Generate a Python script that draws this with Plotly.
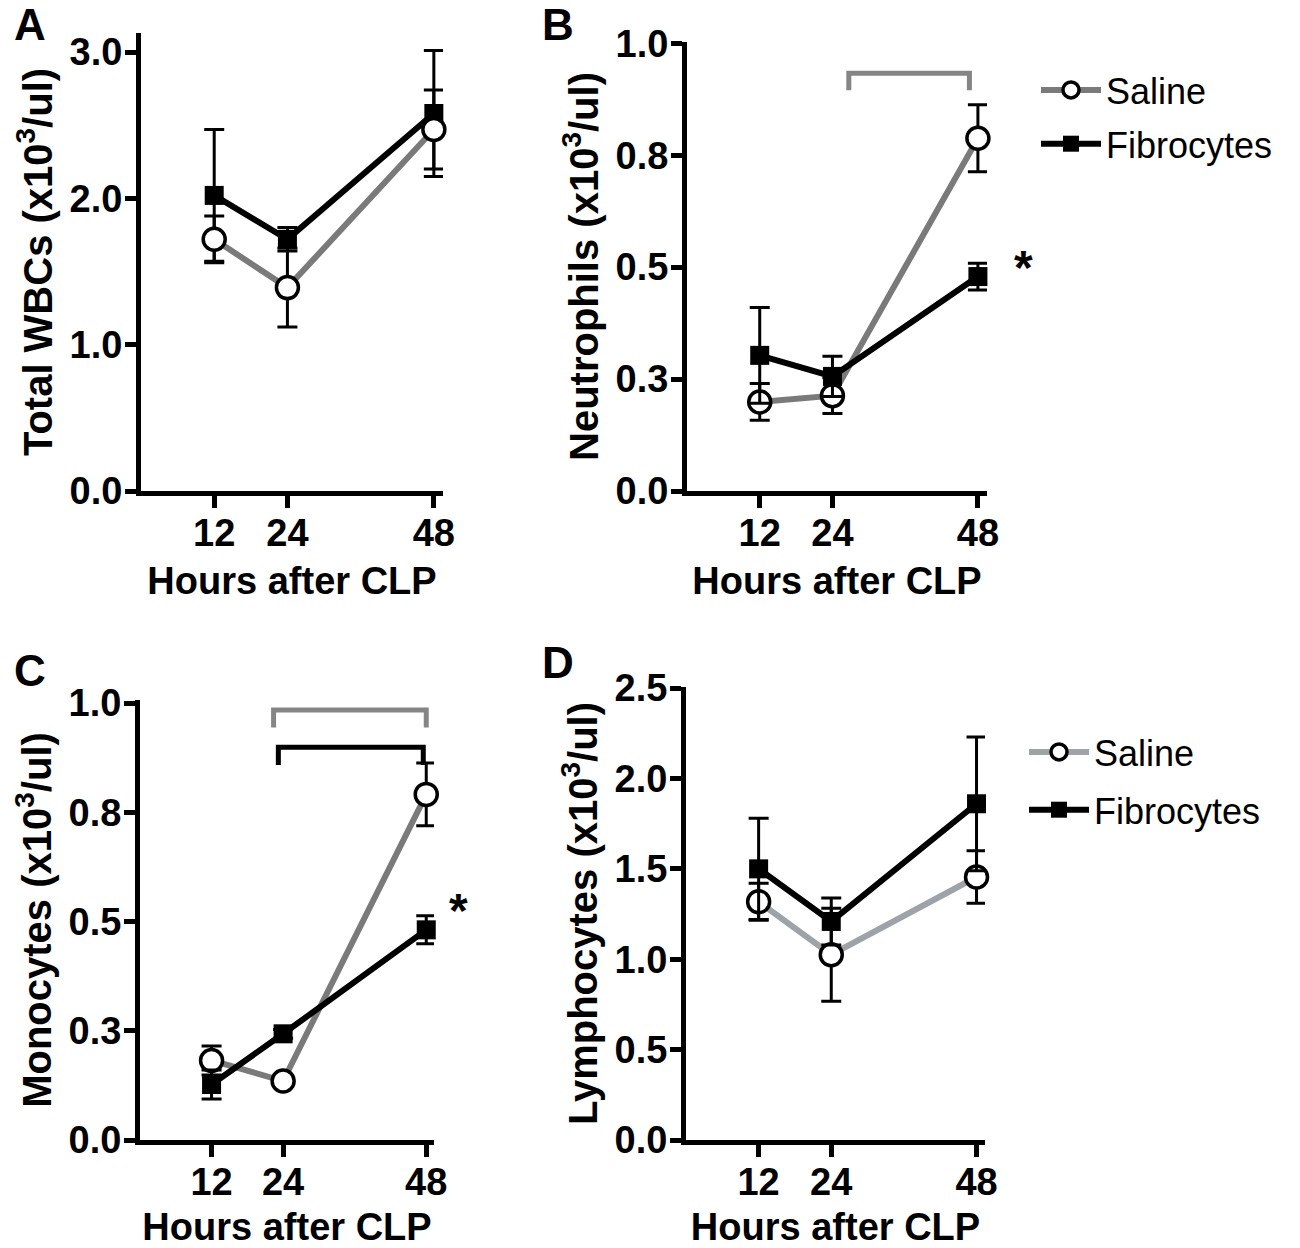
import plotly.graph_objects as go

# ---------------- data ----------------
hours = [12, 24, 48]
x_ticks = [12, 24, 48]

# Panel A: Total WBCs
wbc_saline = [1.72, 1.39, 2.47]
wbc_saline_err = [0.16, 0.27, 0.27]
wbc_fibro = [2.02, 1.72, 2.58]
wbc_fibro_err = [0.45, 0.08, 0.43]

# Panel B: Neutrophils
neu_saline = [0.199, 0.213, 0.788]
neu_saline_err = [0.041, 0.04, 0.075]
neu_fibro = [0.303, 0.256, 0.479]
neu_fibro_err = [0.107, 0.045, 0.030]

# Panel C: Monocytes
mono_saline = [0.182, 0.135, 0.791]
mono_saline_err = [0.033, 0.01, 0.072]
mono_fibro = [0.127, 0.243, 0.481]
mono_fibro_err = [0.033, 0.01, 0.032]

# Panel D: Lymphocytes
lym_saline = [1.318, 1.025, 1.455]
lym_saline_err = [0.103, 0.257, 0.145]
lym_fibro = [1.50, 1.209, 1.86]
lym_fibro_err = [0.28, 0.13, 0.37]

# y tick values / labels
yA_vals = [0, 1, 2, 3]
yA_text = ["0.0", "1.0", "2.0", "3.0"]
yBC_vals = [0, 0.25, 0.5, 0.75, 1.0]
yBC_text = ["0.0", "0.3", "0.5", "0.8", "1.0"]
yD_vals = [0, 0.5, 1.0, 1.5, 2.0, 2.5]
yD_text = ["0.0", "0.5", "1.0", "1.5", "2.0", "2.5"]

# significance brackets: [x_left, x_right, y_top, y_leg_bottom]
bracket_B_saline = [26.7, 46.6, 0.933, 0.895]
bracket_C_saline = [22.4, 48.0, 0.984, 0.944]
bracket_C_fibro = [23.2, 47.5, 0.899, 0.858]
star_B = [55.6, 0.500]
star_C = [53.4, 0.525]

# ---------------- style ----------------
W, H = 1300, 1248
FONT = "Liberation Sans, Arial, sans-serif"
GRAY = "#7a7a7a"
GRAY_D = "#9ea3a9"
BLACK = "#000000"

RANGES = {
    "A": ([0, 49.5], [0, 3.13]),
    "B": ([0, 49.5], [0, 1.003]),
    "C": ([0, 49.3], [0, 1.007]),
    "D": ([0, 49.4], [0, 2.506]),
}


def xd(a, b):
    return [a / W, b / W]


def yd(bottom, top):
    return [1 - bottom / H, 1 - top / H]


fig = go.Figure()


def add_series(xa, ya, y, err, kind, color, legend=None, show=False):
    if kind == "saline":
        marker = dict(symbol="circle", size=22, color="white",
                      line=dict(color=BLACK, width=3.5))
        name = "Saline"
    else:
        marker = dict(symbol="square", size=19, color=BLACK,
                      line=dict(color=BLACK, width=0))
        name = "Fibrocytes"
    fig.add_trace(go.Scatter(
        x=hours, y=y, xaxis=xa, yaxis=ya, name=name,
        mode="lines+markers",
        line=dict(color=color, width=6),
        marker=marker,
        error_y=dict(type="data", array=err, visible=True,
                     color=BLACK, thickness=3, width=10),
        showlegend=show, legend=legend if legend else "legend",
        legendgroup=(legend or "") + name,
        cliponaxis=False,
    ))


# Panel A (saline drawn on top)
add_series("x", "y", wbc_fibro, wbc_fibro_err, "fibro", BLACK)
add_series("x", "y", wbc_saline, wbc_saline_err, "saline", GRAY)
# Panel B
add_series("x2", "y2", neu_saline, neu_saline_err, "saline", GRAY, "legend", True)
add_series("x2", "y2", neu_fibro, neu_fibro_err, "fibro", BLACK, "legend", True)
# Panel C
add_series("x3", "y3", mono_saline, mono_saline_err, "saline", GRAY)
add_series("x3", "y3", mono_fibro, mono_fibro_err, "fibro", BLACK)
# Panel D
add_series("x4", "y4", lym_saline, lym_saline_err, "saline", GRAY_D, "legend2", True)
add_series("x4", "y4", lym_fibro, lym_fibro_err, "fibro", BLACK, "legend2", True)

tickfont = dict(family=FONT, size=38, color=BLACK, weight="bold")
xtitlefont = dict(family=FONT, size=38, color=BLACK, weight="bold")
ytitlefont = dict(family=FONT, size=40, color=BLACK, weight="bold")


def xaxis(domain, rng, anchor):
    return dict(domain=domain, range=rng, anchor=anchor, automargin=False,
                tickvals=x_ticks, ticktext=[str(t) for t in x_ticks],
                showline=True, linewidth=5, linecolor=BLACK,
                ticks="outside", ticklen=12, tickwidth=5, tickcolor=BLACK,
                ticklabelstandoff=-8,
                showgrid=False, zeroline=False, tickfont=tickfont,
                title=dict(text="Hours after CLP", font=xtitlefont, standoff=16))


def yaxis(domain, rng, anchor, vals, texts, title):
    return dict(domain=domain, range=rng, anchor=anchor, automargin=False,
                tickvals=vals, ticktext=texts,
                showline=True, linewidth=5, linecolor=BLACK,
                ticks="outside", ticklen=11, tickwidth=5, tickcolor=BLACK,
                ticklabelstandoff=-5,
                showgrid=False, zeroline=False, tickfont=tickfont,
                title=dict(text=title, font=ytitlefont, standoff=6))


unit = "(x10<sup>3</sup>/ul)"
fig.update_layout(
    xaxis=xaxis(xd(141, 443), RANGES["A"][0], "y"),
    yaxis=yaxis(yd(491, 33), RANGES["A"][1], "x", yA_vals, yA_text, "Total WBCs " + unit),
    xaxis2=xaxis(xd(687, 987), RANGES["B"][0], "y2"),
    yaxis2=yaxis(yd(491, 42), RANGES["B"][1], "x2", yBC_vals, yBC_text, "Neutrophils " + unit),
    xaxis3=xaxis(xd(140, 434), RANGES["C"][0], "y3"),
    yaxis3=yaxis(yd(1140, 700), RANGES["C"][1], "x3", yBC_vals, yBC_text, "Monocytes " + unit),
    xaxis4=xaxis(xd(686, 985), RANGES["D"][0], "y4"),
    yaxis4=yaxis(yd(1140, 687), RANGES["D"][1], "x4", yD_vals, yD_text, "Lymphocytes " + unit),
)

legend_style = dict(font=dict(family=FONT, size=36, color=BLACK),
                    bgcolor="rgba(0,0,0,0)", borderwidth=0,
                    xanchor="left", yanchor="top", itemwidth=60)
fig.update_layout(
    legend=dict(x=1036 / W, y=1 - 60 / H, tracegroupgap=4, **legend_style),
    legend2=dict(x=1024 / W, y=1 - 722 / H, tracegroupgap=8, **legend_style),
)


# brackets
def bracket(xref, yref, b, color):
    x0, x1, ytop, ybot = b
    fig.add_shape(type="path", xref=xref, yref=yref,
                  path=f"M {x0},{ybot} L {x0},{ytop} L {x1},{ytop} L {x1},{ybot}",
                  line=dict(color=color, width=5))


bracket("x2", "y2", bracket_B_saline, "#858585")
bracket("x3", "y3", bracket_C_saline, "#858585")
bracket("x3", "y3", bracket_C_fibro, BLACK)

# significance asterisks (placed just right of the axis range)
for (xr, yr, s, key) in [("x2", "y2", star_B, "B"), ("x3", "y3", star_C, "C")]:
    xr_rng, yr_rng = RANGES[key]
    fig.add_annotation(x=s[0] / xr_rng[1], y=s[1] / yr_rng[1],
                       xref=xr + " domain", yref=yr + " domain", text="*",
                       showarrow=False, xanchor="center", yanchor="middle",
                       font=dict(family=FONT, size=48, color=BLACK, weight="bold"))

# panel letters
for letter, px, py in [("A", 30, 24), ("B", 558, 24), ("C", 30, 670), ("D", 558, 662)]:
    fig.add_annotation(x=px / W, y=1 - py / H, xref="paper", yref="paper",
                       text=letter, showarrow=False, xanchor="center", yanchor="middle",
                       font=dict(family=FONT, size=44, color=BLACK, weight="bold"))

fig.update_layout(
    width=W, height=H,
    margin=dict(l=0, r=0, t=0, b=0, autoexpand=False),
    paper_bgcolor="white", plot_bgcolor="white",
)

# remove the browser's default 8px body margin so the figure sits at the page origin
fig.write_html("out.html",
               config={"displayModeBar": False},
               post_script="document.body.style.margin='0';document.body.style.overflow='hidden';")
